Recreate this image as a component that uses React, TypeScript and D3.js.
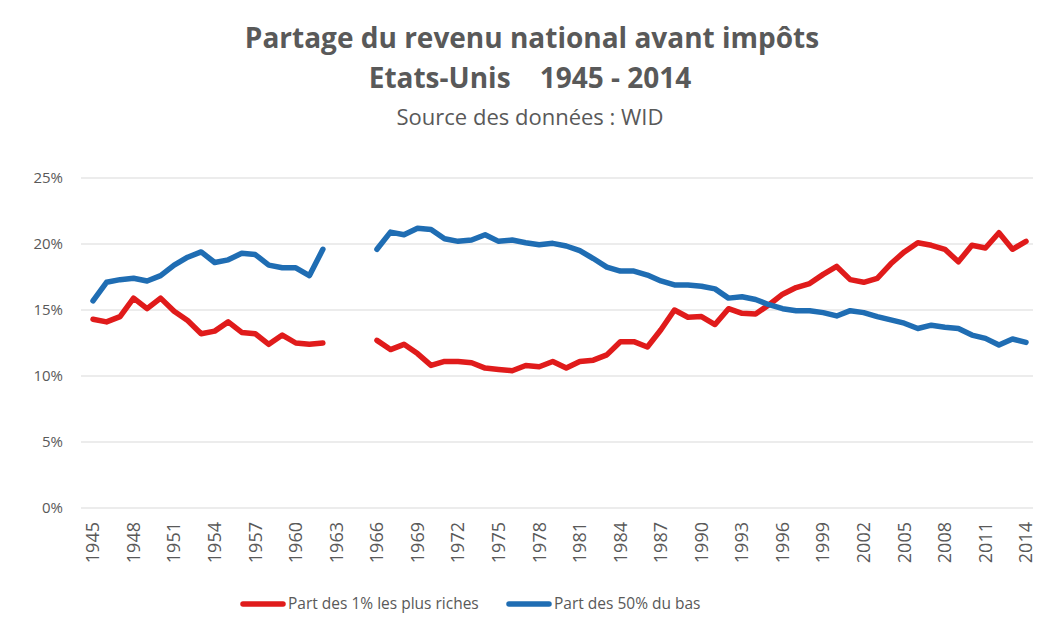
import React, { useEffect, useRef } from 'react';
import * as d3 from 'd3';

// Years 1945-2014; 1963-1965 are missing in the source
const years: number[] = d3.range(1945, 2015);

// Share of the top 1% (%), null = no data
const top1: (number | null)[] = [
  14.3, 14.1, 14.5, 15.9, 15.1, 15.9, 14.9, 14.2, 13.2, 13.4,
  14.1, 13.3, 13.2, 12.4, 13.1, 12.5, 12.4, 12.5, null, null,
  null, 12.7, 12.0, 12.4, 11.7, 10.8, 11.1, 11.1, 11.0, 10.6,
  10.5, 10.4, 10.8, 10.7, 11.1, 10.6, 11.1, 11.2, 11.6, 12.6,
  12.6, 12.2, 13.5, 15.0, 14.45, 14.5, 13.9, 15.1, 14.75, 14.7,
  15.4, 16.2, 16.7, 17.0, 17.7, 18.3, 17.3, 17.1, 17.4, 18.5,
  19.4, 20.1, 19.9, 19.6, 18.65, 19.9, 19.7, 20.85, 19.6, 20.2,
];

// Share of the bottom 50% (%)
const bottom50: (number | null)[] = [
  15.7, 17.1, 17.3, 17.4, 17.2, 17.6, 18.4, 19.0, 19.4, 18.6,
  18.8, 19.3, 19.2, 18.4, 18.2, 18.2, 17.6, 19.6, null, null,
  null, 19.6, 20.9, 20.7, 21.2, 21.1, 20.4, 20.2, 20.3, 20.7,
  20.2, 20.3, 20.1, 19.95, 20.05, 19.85, 19.5, 18.9, 18.25, 17.95,
  17.95, 17.65, 17.2, 16.9, 16.9, 16.8, 16.6, 15.9, 16.0, 15.8,
  15.4, 15.1, 14.95, 14.95, 14.8, 14.55, 14.95, 14.8, 14.5, 14.25,
  14.0, 13.6, 13.85, 13.7, 13.6, 13.1, 12.85, 12.35, 12.8, 12.55,
];

const yTicks: number[] = [0, 5, 10, 15, 20, 25];
const xTickYears: number[] = d3.range(1945, 2015, 3);

const seriesNames: string[] = ['Part des 1% les plus riches', 'Part des 50% du bas'];
const seriesColors: string[] = ['#E01B1B', '#1F6DB3'];

const FONT = 'Open Sans, Liberation Sans, sans-serif';
const TEXT = '#595959';

const App = () => {
  const svgRef = useRef<SVGSVGElement>(null);

  useEffect(() => {
    if (!svgRef.current) return;
    const svg = d3.select(svgRef.current);
    svg.selectAll('*').remove();

    const width = 1050;
    const height = 632;

    svg.append('rect').attr('width', width).attr('height', height).attr('fill', '#fff');

    const x = d3.scaleLinear().domain([1945, 2014]).range([93, 1026]);
    const y = d3.scaleLinear().domain([0, 25]).range([508, 178]);

    // titles
    svg.append('text')
      .attr('x', 532).attr('y', 48)
      .attr('text-anchor', 'middle')
      .attr('fill', TEXT)
      .style('font-family', FONT).style('font-size', '28px').style('font-weight', 'bold')
      .text('Partage du revenu national avant impôts');
    svg.append('text')
      .attr('x', 530).attr('y', 88)
      .attr('text-anchor', 'middle')
      .attr('fill', TEXT)
      .style('font-family', FONT).style('font-size', '28px').style('font-weight', 'bold')
      .style('white-space', 'pre')
      .text('Etats-Unis    1945 - 2014');
    svg.append('text')
      .attr('x', 530).attr('y', 125)
      .attr('text-anchor', 'middle')
      .attr('fill', TEXT)
      .style('font-family', FONT).style('font-size', '22px')
      .text('Source des données : WID');

    // gridlines
    svg.append('g')
      .selectAll('line')
      .data(yTicks)
      .enter()
      .append('line')
      .attr('x1', 81).attr('x2', 1033)
      .attr('y1', d => y(d)).attr('y2', d => y(d))
      .attr('stroke', '#d9d9d9').attr('stroke-width', 1);

    // y labels
    svg.append('g')
      .selectAll('text')
      .data(yTicks)
      .enter()
      .append('text')
      .attr('x', 63).attr('y', d => y(d))
      .attr('dy', '0.35em')
      .attr('text-anchor', 'end')
      .attr('fill', TEXT)
      .style('font-family', FONT).style('font-size', '15px')
      .text(d => `${d}%`);

    // x labels (rotated)
    svg.append('g')
      .selectAll('text')
      .data(xTickYears)
      .enter()
      .append('text')
      .attr('transform', d => `translate(${x(d)},522) rotate(-90)`)
      .attr('dy', '0.35em')
      .attr('text-anchor', 'end')
      .attr('fill', TEXT)
      .style('font-family', FONT).style('font-size', '18px')
      .text(d => String(d));

    // lines
    const line = d3.line<number | null>()
      .defined(d => d !== null)
      .x((_, i) => x(years[i]))
      .y(d => y(d as number));

    [top1, bottom50].forEach((values, i) => {
      svg.append('path')
        .datum(values)
        .attr('d', line)
        .attr('fill', 'none')
        .attr('stroke', seriesColors[i])
        .attr('stroke-width', 5.5)
        .attr('stroke-linejoin', 'round')
        .attr('stroke-linecap', 'round');
    });

    // legend
    const legendX = [243, 509];
    seriesNames.forEach((name, i) => {
      const g = svg.append('g').attr('transform', `translate(${legendX[i]},604)`);
      g.append('line')
        .attr('x1', 0).attr('x2', 40)
        .attr('stroke', seriesColors[i]).attr('stroke-width', 5.5)
        .attr('stroke-linecap', 'round');
      g.append('text')
        .attr('x', 45).attr('dy', '0.35em')
        .attr('fill', TEXT)
        .style('font-family', FONT).style('font-size', '15.5px')
        .text(name);
    });
  }, []);

  return (
    <svg
      ref={svgRef}
      width={1050}
      height={632}
      style={{ position: 'absolute', left: 0, top: 0 }}
    />
  );
};

export default App;
